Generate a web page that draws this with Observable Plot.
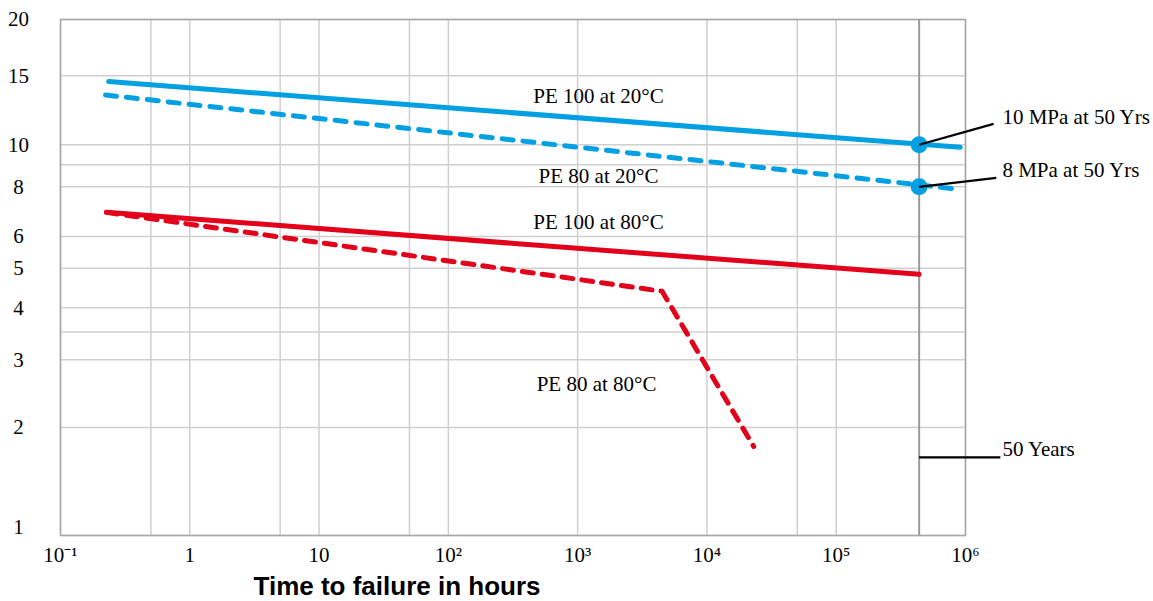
<!DOCTYPE html>
<html>
<head>
<meta charset="utf-8">
<script src="https://cdn.jsdelivr.net/npm/d3@7"></script>
<script src="https://cdn.jsdelivr.net/npm/@observablehq/plot@0.6"></script>
<style>
  html, body { margin: 0; padding: 0; background: #fff; }
  #chart { width: 1153px; }
  .xtitle { position: relative; height: 33px; width: 1153px; }
  .xtitle span {
    position: absolute; left: 397px; top: 5px; transform: translateX(-50%);
    font-family: "Liberation Sans", Arial, sans-serif; font-weight: bold; font-size: 26px; line-height: 26px; color: #000;
    white-space: nowrap;
  }
</style>
</head>
<body>
<div id="chart"></div>
<div class="xtitle"><span>Time to failure in hours</span></div>
<script>
// ---- Data (hours on x, stress in MPa on y) ----
const xTicks = [0.1, 1, 10, 100, 1000, 1e4, 1e5, 1e6];
const xMinorGrid = [0.5, 5, 50, 5e4];
const yTicks = [2, 3, 4, 5, 6, 8, 10, 15, 20];
const yGrid = [1, 2, 3, 3.5, 4, 5, 6, 8, 9, 10, 15, 20];
const fiftyYearsHours = 438000;

const pe100At20Hours = [0.236, 9.1e5];
const pe100At20Mpa = [14.5, 9.87];
const pe80At20Hours = [0.223, 9.1e5];
const pe80At20Mpa = [13.4, 7.88];
const pe100At80Hours = [0.227, 438000];
const pe100At80Mpa = [6.9, 4.83];
const pe80At80Hours = [0.227, 4500, 23000];
const pe80At80Mpa = [6.9, 4.39, 1.77];

const markerHours = [438000, 438000];
const markerMpa = [10, 8];

const seriesLabels = ["PE 100 at 20°C", "PE 80 at 20°C", "PE 100 at 80°C", "PE 80 at 80°C"];
const seriesLabelHours = [1450, 1450, 1450, 1400];
const seriesLabelMpa = [13.3, 8.45, 6.5, 2.59];

const noteLabels = ["10 MPa at 50 Yrs", "8 MPa at 50 Yrs", "50 Years"];
const noteFromHours = [438000, 438000, 438000];
const noteFromMpa = [10, 8, 1.65];
const noteToHours = [1.65e6, 1.73e6, 1.86e6];
const noteToMpa = [11.31, 8.39, 1.65];
const noteTextHours = [1.93e6, 1.93e6, 1.93e6];
const noteTextMpa = [11.76, 8.72, 1.74];

const blue = "#00A0E3";
const red = "#E2001A";
const serif = '"Liberation Serif", "Times New Roman", serif';
const fs = 21;

const toRows = (xs, ys) => xs.map((x, i) => ({x, y: ys[i]}));
const sup = {"-": "⁻", "0": "⁰", "1": "¹", "2": "²", "3": "³", "4": "⁴", "5": "⁵", "6": "⁶", "7": "⁷", "8": "⁸", "9": "⁹"};
const fmtX = d => {
  const e = Math.round(Math.log10(d));
  if (e === 0) return "1";
  if (e === 1) return "10";
  return "10" + String(e).split("").map(c => sup[c]).join("");
};

const notes = noteLabels.map((t, i) => ({
  t, x1: noteFromHours[i], y1: noteFromMpa[i], x2: noteToHours[i], y2: noteToMpa[i],
  tx: noteTextHours[i], ty: noteTextMpa[i]
}));
const seriesText = seriesLabels.map((t, i) => ({t, x: seriesLabelHours[i], y: seriesLabelMpa[i]}));

const chart = Plot.plot({
  width: 1153,
  height: 568,
  marginLeft: 60,
  marginRight: 188,
  marginTop: 19,
  marginBottom: 33,
  style: {fontFamily: serif, fontSize: fs + "px", color: "#000", background: "#fff", overflow: "visible"},
  x: {type: "log", domain: [0.1, 1e6]},
  y: {
    type: "log",
    domain: [1, 2, 3, 4, 5, 6, 8, 10, 15, 20],
    range: [535, 427, 359.3, 307.3, 267.7, 236, 186.3, 144.3, 75.3, 19]
  },
  marks: [
    Plot.gridY(yGrid, {stroke: "#cfcfcf", strokeOpacity: 1, strokeWidth: 1.5}),
    Plot.gridX(xTicks.concat(xMinorGrid), {stroke: "#cfcfcf", strokeOpacity: 1, strokeWidth: 1.5}),
    Plot.frame({stroke: "#a6a6a6", strokeWidth: 1.5}),
    Plot.ruleX([fiftyYearsHours], {stroke: "#9a9a9a", strokeWidth: 2}),
    Plot.axisY(yTicks, {tickSize: 0, tickPadding: 42, textAnchor: "middle", label: null, tickFormat: d => String(d), fontSize: fs}),
    Plot.text([1], {y: d => d, frameAnchor: "left", dx: -42, dy: -8, text: d => String(d), textAnchor: "middle", fontSize: fs}),
    Plot.axisX(xTicks, {tickSize: 0, tickPadding: 12, label: null, tickFormat: fmtX, fontSize: fs}),
    Plot.line(toRows(pe100At20Hours, pe100At20Mpa), {x: "x", y: "y", stroke: blue, strokeWidth: 5}),
    Plot.line(toRows(pe80At20Hours, pe80At20Mpa), {x: "x", y: "y", stroke: blue, strokeWidth: 5, strokeDasharray: "11,10"}),
    Plot.line(toRows(pe100At80Hours, pe100At80Mpa), {x: "x", y: "y", stroke: red, strokeWidth: 5}),
    Plot.line(toRows(pe80At80Hours, pe80At80Mpa), {x: "x", y: "y", stroke: red, strokeWidth: 5, strokeDasharray: "11,9", strokeLinejoin: "round"}),
    Plot.dot(toRows(markerHours, markerMpa), {x: "x", y: "y", r: 8.5, fill: blue, stroke: "none"}),
    Plot.link(notes, {x1: "x1", y1: "y1", x2: "x2", y2: "y2", stroke: "#000", strokeWidth: 2.2}),
    Plot.text(notes, {x: "tx", y: "ty", text: "t", textAnchor: "start", fontSize: fs}),
    Plot.text(seriesText, {x: "x", y: "y", text: "t", textAnchor: "middle", fontSize: fs})
  ]
});
document.getElementById("chart").appendChild(chart);
</script>
</body>
</html>
